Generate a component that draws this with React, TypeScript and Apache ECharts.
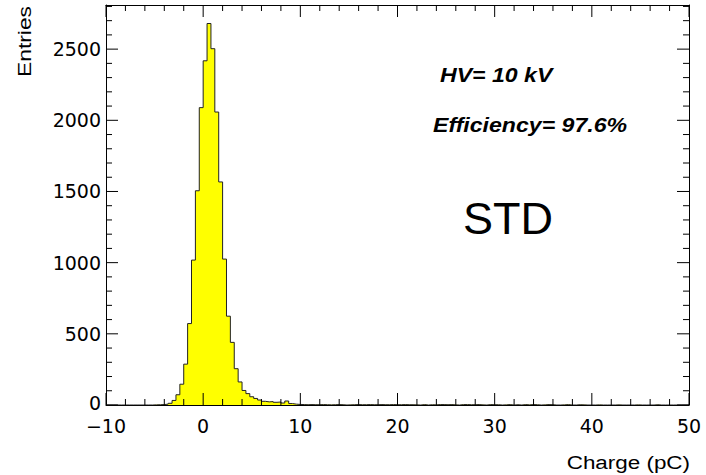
import React, { useEffect, useRef } from "react";
import * as echarts from "echarts";

// Histogram: 150 bins of 0.4 pC from -10 to 50 pC
const xMin = -10;
const xMax = 50;
const binWidth = 0.4;
const yMax = 2810;

const counts: number[] = [
  // -10 .. -6
  0, 0, 0, 0, 0, 0, 0, 0, 0, 0,
  // -6 .. -2
  0, 0, 1, 2, 3, 6, 12, 32, 72, 146,
  // -2 .. 2
  287, 572, 1018, 1505, 2089, 2418, 2680, 2503, 2058, 1567,
  // 2 .. 6
  1025, 624, 440, 255, 162, 102, 80, 58, 46, 35,
  // 6 .. 10
  26, 22, 24, 19, 21, 14, 28, 10, 6, 4,
  // 10 .. 14
  3, 2, 3, 2, 2, 3, 2, 1, 2, 3,
  // 14 .. 18
  2, 0, 1, 2, 3, 2, 2, 3, 2, 2,
  // 18 .. 22
  3, 2, 2, 3, 2, 2, 3, 2, 2, 1,
  // 22 .. 26
  0, 3, 0, 2, 1, 3, 3, 2, 3, 1,
  // 26 .. 30
  0, 3, 3, 2, 2, 3, 1, 0, 3, 2,
  // 30 .. 34
  2, 0, 1, 3, 0, 2, 0, 3, 1, 3,
  // 34 .. 38
  2, 0, 1, 3, 2, 0, 0, 1, 3, 0,
  // 38 .. 42
  0, 2, 1, 0, 0, 0, 1, 0, 0, 0,
  // 42 .. 46
  0, 1, 0, 0, 0, 0, 1, 0, 0, 0,
  // 46 .. 50
  0, 2, 0, 0, 0, 0, 0, 0, 0, 0,
];

// tick positions (ROOT style: 5 subdivisions per major interval)
const xMajorTicks = [-10, 0, 10, 20, 30, 40, 50];
const xMinorTicks = [
  -8, -6, -4, -2, 2, 4, 6, 8, 12, 14, 16, 18, 22, 24, 26, 28,
  32, 34, 36, 38, 42, 44, 46, 48,
];
const yMajorTicks = [0, 500, 1000, 1500, 2000, 2500];
const yMinorTicks = [
  100, 200, 300, 400, 600, 700, 800, 900, 1100, 1200, 1300, 1400,
  1600, 1700, 1800, 1900, 2100, 2200, 2300, 2400, 2600, 2700, 2800,
];

const xTitle = "Charge (pC)";
const yTitle = "Entries";
const hvLabel = "HV= 10 kV";
const effLabel = "Efficiency= 97.6%";
const tagLabel = "STD";

const MAJOR_LEN = 12;
const MINOR_LEN = 6;

export default function App() {
  const ref = useRef<HTMLDivElement>(null);

  useEffect(() => {
    if (!ref.current) return;
    const chart = echarts.init(ref.current, undefined, { renderer: "svg" });

    const stepData: number[][] = counts.map((c, i) => [
      +(xMin + i * binWidth).toFixed(4),
      c,
    ]);
    stepData.push([xMax, counts[counts.length - 1]]);

    const xTickData = [
      ...xMajorTicks.map((v) => [v, 0, MAJOR_LEN]),
      ...xMinorTicks.map((v) => [v, 0, MINOR_LEN]),
    ];
    const yTickData = [
      ...yMajorTicks.map((v) => [xMin, v, MAJOR_LEN]),
      ...yMinorTicks.map((v) => [xMin, v, MINOR_LEN]),
    ];

    const tickStyle = { stroke: "#000", lineWidth: 1 };

    const tickFont = {
      fontFamily: "DejaVu Sans",
      fontSize: 19,
      lineHeight: 19,
      color: "#000",
    };
    const line = { show: true, onZero: false, lineStyle: { color: "#000", width: 1 } };
    const xBase = { type: "value", min: xMin, max: xMax, interval: 10, splitLine: { show: false }, axisTick: { show: false } };
    const yBase = { type: "value", min: 0, max: yMax, interval: 500, splitLine: { show: false }, axisTick: { show: false } };

    chart.setOption({
      animation: false,
      backgroundColor: "#fff",
      grid: {
        left: 106,
        right: 17,
        top: 5,
        bottom: 70,
        show: false,
      },
      xAxis: [
        {
          ...xBase,
          position: "bottom",
          axisLine: line,
          axisLabel: {
            ...tickFont,
            margin: 11,
            formatter: (v: number) => (v < 0 ? "\u2212" + Math.abs(v) : String(v)),
          },
        },
        {
          ...xBase,
          position: "top",
          axisLine: line,
          axisLabel: { show: false },
        },
      ],
      yAxis: [
        {
          ...yBase,
          position: "left",
          axisLine: line,
          axisLabel: {
            ...tickFont,
            margin: 5,
            showMaxLabel: false,
            formatter: (v: number) => (v === 0 ? "{zero|0}" : v % 500 === 0 ? String(v) : ""),
            rich: {
              zero: {
                fontFamily: "DejaVu Sans",
                fontSize: 19,
                lineHeight: 15,
                color: "#000",
                padding: [0, 0, 4, 0],
              },
            },
          },
        },
        {
          ...yBase,
          position: "right",
          axisLine: line,
          axisLabel: { show: false },
        },
      ],
      series: [
        {
          type: "line",
          xAxisIndex: 0,
          yAxisIndex: 0,
          step: "end",
          data: stepData,
          showSymbol: false,
          symbol: "none",
          lineStyle: { color: "#222", width: 1 },
          areaStyle: { color: "#ffff00", opacity: 1, origin: "start" },
          z: 1,
        },
        {
          type: "custom",
          xAxisIndex: 0,
          yAxisIndex: 0,
          clip: false,
          silent: true,
          z: 5,
          data: xTickData,
          renderItem: (params: any, api: any) => {
            const v = api.value(0);
            const len = api.value(2);
            const b = api.coord([v, 0]);
            const t = api.coord([v, yMax]);
            return {
              type: "group",
              children: [
                { type: "line", shape: { x1: b[0], y1: b[1], x2: b[0], y2: b[1] - len }, style: tickStyle },
                { type: "line", shape: { x1: t[0], y1: t[1], x2: t[0], y2: t[1] + len }, style: tickStyle },
              ],
            };
          },
        },
        {
          type: "custom",
          xAxisIndex: 0,
          yAxisIndex: 0,
          clip: false,
          silent: true,
          z: 5,
          data: yTickData,
          renderItem: (params: any, api: any) => {
            const v = api.value(1);
            const len = api.value(2);
            const l = api.coord([xMin, v]);
            const r = api.coord([xMax, v]);
            return {
              type: "group",
              children: [
                { type: "line", shape: { x1: l[0], y1: l[1], x2: l[0] + len, y2: l[1] }, style: tickStyle },
                { type: "line", shape: { x1: r[0], y1: r[1], x2: r[0] - len, y2: r[1] }, style: tickStyle },
              ],
            };
          },
        },
      ],
      graphic: [
        {
          type: "text",
          x: 24,
          y: 6,
          rotation: Math.PI / 2,
          scaleX: 1.2,
          style: {
            text: yTitle,
            fontFamily: "Liberation Sans",
            fontSize: 19,
            fill: "#000",
            align: "right",
            verticalAlign: "middle",
          },
        },
        {
          type: "text",
          x: 690,
          y: 462,
          scaleX: 1.18,
          style: {
            text: xTitle,
            fontFamily: "Liberation Sans",
            fontSize: 19,
            fill: "#000",
            align: "right",
            verticalAlign: "middle",
          },
        },
        {
          type: "text",
          x: 440,
          y: 75,
          scaleX: 1.1,
          style: {
            text: hvLabel,
            fontFamily: "Liberation Sans",
            fontSize: 21,
            fontWeight: "bold",
            fontStyle: "italic",
            fill: "#000",
            align: "left",
            verticalAlign: "middle",
          },
        },
        {
          type: "text",
          x: 433,
          y: 125,
          scaleX: 1.1,
          style: {
            text: effLabel,
            fontFamily: "Liberation Sans",
            fontSize: 21,
            fontWeight: "bold",
            fontStyle: "italic",
            fill: "#000",
            align: "left",
            verticalAlign: "middle",
          },
        },
        {
          type: "text",
          x: 508,
          y: 218,
          style: {
            text: tagLabel,
            fontFamily: "Liberation Sans",
            fontSize: 45,
            fill: "#000",
            align: "center",
            verticalAlign: "middle",
          },
        },
      ],
    });

    return () => chart.dispose();
  }, []);

  return <div ref={ref} style={{ width: 706, height: 475, position: "absolute", left: 0, top: 0 }} />;
}
